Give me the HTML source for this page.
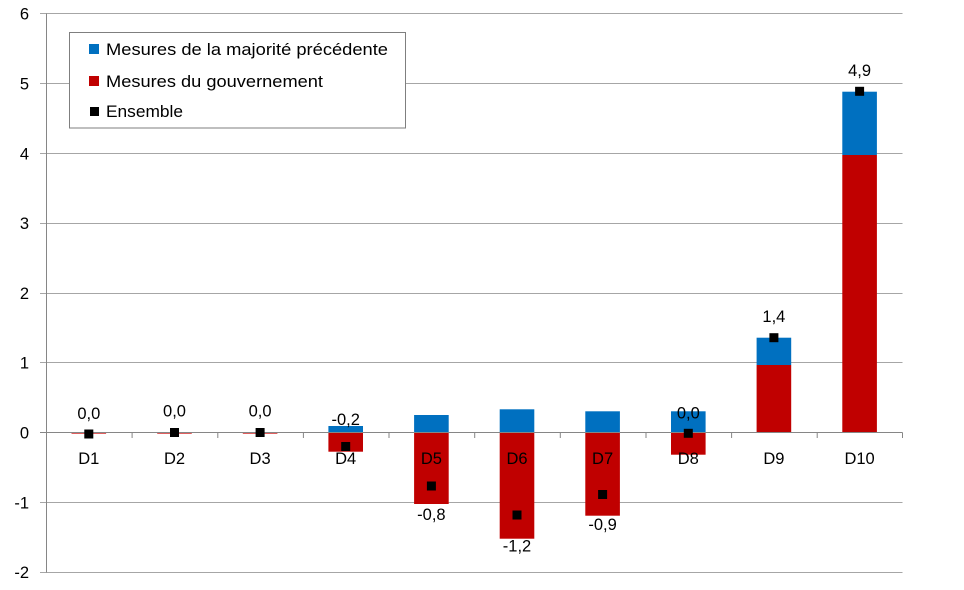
<!DOCTYPE html>
<html><head><meta charset="utf-8"><style>
html,body{margin:0;padding:0;background:#fff;}
svg{display:block;}
text{font-family:"Liberation Sans",Arial,sans-serif;font-size:16.5px;fill:#000;}
</style></head><body>
<svg width="964" height="590" viewBox="0 0 964 590" xmlns="http://www.w3.org/2000/svg">
<!-- gridlines -->
<g stroke="#a6a6a6" stroke-width="1">
<line x1="40" y1="13.5" x2="902.5" y2="13.5"/>
<line x1="40" y1="83.5" x2="902.5" y2="83.5"/>
<line x1="40" y1="153.5" x2="902.5" y2="153.5"/>
<line x1="40" y1="223.5" x2="902.5" y2="223.5"/>
<line x1="40" y1="293.5" x2="902.5" y2="293.5"/>
<line x1="40" y1="362.5" x2="902.5" y2="362.5"/>
<line x1="40" y1="502.5" x2="902.5" y2="502.5"/>
<line x1="40" y1="572.5" x2="902.5" y2="572.5"/>
</g>
<!-- bars -->
<g>
<!-- D1-D3 tiny red -->
<rect x="71.5" y="432.5" width="34.6" height="1.5" fill="#e06060"/>
<rect x="157.2" y="432.5" width="34.6" height="1.5" fill="#e06060"/>
<rect x="242.8" y="432.5" width="34.6" height="1.5" fill="#e06060"/>
<!-- D4 -->
<rect x="328.4" y="426" width="34.6" height="6.5" fill="#0070c0"/>
<rect x="328.4" y="432.5" width="34.6" height="19.2" fill="#c00000"/>
<!-- D5 -->
<rect x="414.1" y="415" width="34.6" height="17.5" fill="#0070c0"/>
<rect x="414.1" y="432.5" width="34.6" height="71.5" fill="#c00000"/>
<!-- D6 -->
<rect x="499.7" y="409.3" width="34.6" height="23.2" fill="#0070c0"/>
<rect x="499.7" y="432.5" width="34.6" height="106.2" fill="#c00000"/>
<!-- D7 -->
<rect x="585.3" y="411.3" width="34.6" height="21.2" fill="#0070c0"/>
<rect x="585.3" y="432.5" width="34.6" height="83.2" fill="#c00000"/>
<!-- D8 -->
<rect x="671" y="411.3" width="34.6" height="21.2" fill="#0070c0"/>
<rect x="671" y="432.5" width="34.6" height="22.2" fill="#c00000"/>
<!-- D9 -->
<rect x="756.6" y="337.7" width="34.6" height="27.3" fill="#0070c0"/>
<rect x="756.6" y="365" width="34.6" height="67.5" fill="#c00000"/>
<!-- D10 -->
<rect x="842.3" y="91.7" width="34.6" height="63.3" fill="#0070c0"/>
<rect x="842.3" y="155" width="34.6" height="277.5" fill="#c00000"/>
</g>
<!-- axes -->
<g stroke="#868686" stroke-width="1">
<line x1="46.5" y1="13.5" x2="46.5" y2="572.5"/>
<line x1="40" y1="432.5" x2="902.5" y2="432.5"/>
<line x1="46.5" y1="432.5" x2="46.5" y2="438"/>
<line x1="132.1" y1="432.5" x2="132.1" y2="438"/>
<line x1="217.8" y1="432.5" x2="217.8" y2="438"/>
<line x1="303.4" y1="432.5" x2="303.4" y2="438"/>
<line x1="389" y1="432.5" x2="389" y2="438"/>
<line x1="474.7" y1="432.5" x2="474.7" y2="438"/>
<line x1="560.3" y1="432.5" x2="560.3" y2="438"/>
<line x1="646" y1="432.5" x2="646" y2="438"/>
<line x1="731.6" y1="432.5" x2="731.6" y2="438"/>
<line x1="817.2" y1="432.5" x2="817.2" y2="438"/>
<line x1="902.5" y1="432.5" x2="902.5" y2="438"/>
</g>
<!-- markers -->
<g fill="#000">
<rect x="84.3" y="429.5" width="9" height="9"/>
<rect x="170" y="428" width="9" height="9"/>
<rect x="255.6" y="428" width="9" height="9"/>
<rect x="341.2" y="442" width="9" height="9"/>
<rect x="426.9" y="481.5" width="9" height="9"/>
<rect x="512.5" y="510.5" width="9" height="9"/>
<rect x="598.1" y="490" width="9" height="9"/>
<rect x="683.8" y="428.8" width="9" height="9"/>
<rect x="769.4" y="333.2" width="9" height="9"/>
<rect x="855.1" y="86.8" width="9" height="9"/>
</g>
<!-- y labels -->
<g text-anchor="end">
<text x="29" y="19.5">6</text>
<text x="29" y="89.5">5</text>
<text x="29" y="159.5">4</text>
<text x="29" y="229">3</text>
<text x="29" y="299">2</text>
<text x="29" y="368.5">1</text>
<text x="29" y="438.5">0</text>
<text x="29" y="508.5">-1</text>
<text x="29" y="578">-2</text>
</g>
<!-- category labels -->
<g text-anchor="middle">
<text x="88.8" y="464">D1</text>
<text x="174.5" y="464">D2</text>
<text x="260.1" y="464">D3</text>
<text x="345.7" y="464">D4</text>
<text x="431.4" y="464">D5</text>
<text x="517" y="464">D6</text>
<text x="602.6" y="464">D7</text>
<text x="688.3" y="464">D8</text>
<text x="773.9" y="464">D9</text>
<text x="859.6" y="464">D10</text>
</g>
<!-- data labels -->
<g text-anchor="middle">
<text x="88.8" y="419">0,0</text>
<text x="174.5" y="416.7">0,0</text>
<text x="260.1" y="416.7">0,0</text>
<text x="345.7" y="425">-0,2</text>
<text x="431.4" y="520">-0,8</text>
<text x="517" y="551.7">-1,2</text>
<text x="602.6" y="530">-0,9</text>
<text x="688.3" y="418.7">0,0</text>
<text x="773.9" y="322">1,4</text>
<text x="859.6" y="76">4,9</text>
</g>
<!-- legend -->
<rect x="69.5" y="32.5" width="336" height="95.5" fill="#fff" stroke="#7f7f7f" stroke-width="1"/>
<rect x="89" y="44" width="10" height="10" fill="#0070c0"/>
<rect x="89" y="76" width="10" height="10" fill="#c00000"/>
<rect x="90" y="107" width="9" height="9" fill="#000"/>
<text x="106" y="55" textLength="282" lengthAdjust="spacingAndGlyphs">Mesures de la majorité précédente</text>
<text x="106" y="87" textLength="217" lengthAdjust="spacingAndGlyphs">Mesures du gouvernement</text>
<text x="106" y="117" textLength="77" lengthAdjust="spacingAndGlyphs">Ensemble</text>
</svg>
</body></html>
